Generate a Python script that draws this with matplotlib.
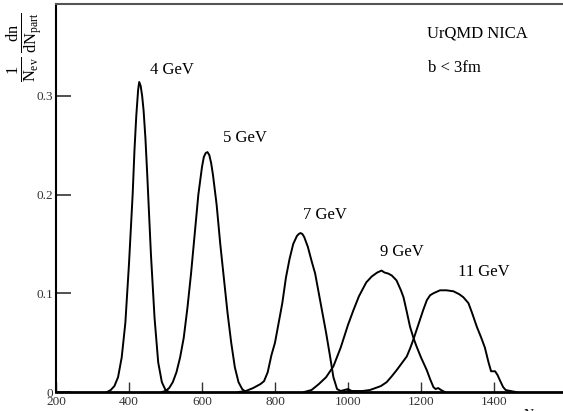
import matplotlib
matplotlib.use('Agg')
import matplotlib.pyplot as plt

# Npart distributions, UrQMD NICA, b < 3fm
x_4 = [340, 350, 360, 370, 380, 390, 400, 410, 415, 420, 425, 428, 432, 436, 440, 445, 450, 460, 470, 480, 490, 500, 510]
y_4 = [0, 0.002, 0.006, 0.015, 0.035, 0.07, 0.13, 0.2, 0.245, 0.28, 0.306, 0.314, 0.31, 0.3, 0.285, 0.257, 0.22, 0.14, 0.075, 0.03, 0.01, 0.002, 0]

x_5 = [490, 500, 510, 520, 530, 540, 550, 560, 570, 580, 590, 600, 605, 610, 615, 620, 625, 630, 640, 650, 660, 670, 680, 690, 700, 710, 720]
y_5 = [0, 0.001, 0.004, 0.01, 0.02, 0.035, 0.055, 0.085, 0.12, 0.16, 0.2, 0.228, 0.238, 0.242, 0.243, 0.24, 0.232, 0.22, 0.19, 0.15, 0.115, 0.08, 0.05, 0.025, 0.01, 0.003, 0]

x_7 = [700, 720, 740, 760, 770, 780, 790, 800, 810, 820, 830, 840, 850, 860, 865, 870, 875, 880, 890, 900, 910, 920, 930, 940, 950, 960, 970, 980, 990, 1000, 1010, 1020]
y_7 = [0, 0.001, 0.004, 0.008, 0.011, 0.02, 0.037, 0.05, 0.07, 0.09, 0.116, 0.135, 0.15, 0.158, 0.160, 0.161, 0.160, 0.157, 0.147, 0.133, 0.12, 0.1, 0.08, 0.06, 0.038, 0.015, 0.003, 0.001, 0.002, 0.003, 0.001, 0]

x_9 = [880, 900, 920, 940, 960, 980, 1000, 1015, 1030, 1050, 1065, 1080, 1092, 1100, 1110, 1120, 1133, 1145, 1152, 1160, 1170, 1180, 1188, 1200, 1216, 1225, 1234, 1240, 1247, 1255, 1265]
y_9 = [0, 0.002, 0.008, 0.015, 0.026, 0.045, 0.068, 0.083, 0.097, 0.111, 0.117, 0.121, 0.123, 0.121, 0.12, 0.118, 0.113, 0.103, 0.096, 0.083, 0.066, 0.054, 0.046, 0.035, 0.022, 0.013, 0.005, 0.003, 0.004, 0.002, 0]

x_11 = [990, 1000, 1040, 1060, 1075, 1090, 1106, 1120, 1133, 1147, 1161, 1170, 1179, 1188, 1197, 1206, 1216, 1225, 1234, 1252, 1270, 1289, 1305, 1316, 1330, 1340, 1353, 1365, 1375, 1385, 1392, 1403, 1410, 1416, 1425, 1432, 1445, 1460]
y_11 = [0, 0.001, 0.001, 0.002, 0.004, 0.006, 0.010, 0.016, 0.022, 0.029, 0.036, 0.044, 0.053, 0.063, 0.073, 0.083, 0.093, 0.098, 0.100, 0.103, 0.103, 0.102, 0.099, 0.096, 0.090, 0.080, 0.066, 0.055, 0.045, 0.030, 0.021, 0.021, 0.017, 0.012, 0.005, 0.002, 0.001, 0]

energies = ['4 GeV', '5 GeV', '7 GeV', '9 GeV', '11 GeV']
label_x = [457, 658, 877, 1088, 1301]
label_y = [0.326, 0.257, 0.179, 0.142, 0.122]

x_ticks = [200, 400, 600, 800, 1000, 1200, 1400]
y_ticks = [0, 0.1, 0.2, 0.3]
y_ticklabels = ['0', '0.1', '0.2', '0.3']

plt.rcParams['font.family'] = ['Liberation Serif', 'DejaVu Serif']
plt.rcParams['mathtext.fontset'] = 'custom'
plt.rcParams['mathtext.rm'] = 'Liberation Serif'
plt.rcParams['mathtext.it'] = 'Liberation Serif'

W, H = 563, 411
fig = plt.figure(figsize=(W / 100, H / 100), dpi=100)
ax = fig.add_axes([56 / W, (H - 392) / H, 511 / W, 388 / H])

for xs, ys in [(x_4, y_4), (x_5, y_5), (x_7, y_7), (x_9, y_9), (x_11, y_11)]:
    ax.plot(xs, ys, color='black', lw=1.4)

for lab, lx, ly in zip(energies, label_x, label_y):
    ax.text(lx, ly, lab, fontsize=12, va='center', ha='left')

ax.text(1216, 0.363, 'UrQMD NICA', fontsize=12, va='center', ha='left')
ax.text(1219, 0.328, 'b < 3fm', fontsize=12, va='center', ha='left')

ax.set_xlim(200, 1600)
ax.set_ylim(0, 0.393)
ax.set_xticks(x_ticks)
ax.set_yticks(y_ticks)
ax.set_yticklabels(y_ticklabels)
ax.tick_params(axis='x', direction='in', length=7, width=1, colors='#333333', labelsize=9.5, pad=3)
ax.tick_params(axis='y', direction='in', length=11, width=1.2, colors='#333333', labelsize=9.5, pad=2)

ax.spines['left'].set_linewidth(1.5)
ax.spines['bottom'].set_linewidth(2)
ax.spines['top'].set_linewidth(1.5)
ax.spines['top'].set_color('#555555')
ax.spines['right'].set_visible(False)

fig.text(25 / W, 1 - 47 / H, r'$\frac{1}{N_{ev}}\,\frac{dn}{dN_{part}}$',
         rotation=90, fontsize=17, ha='center', va='center')
fig.text(523 / W, 1 - 408 / H, r'$N_{part}$', fontsize=10, ha='left', va='top')

fig.savefig('out.png', dpi=100)
